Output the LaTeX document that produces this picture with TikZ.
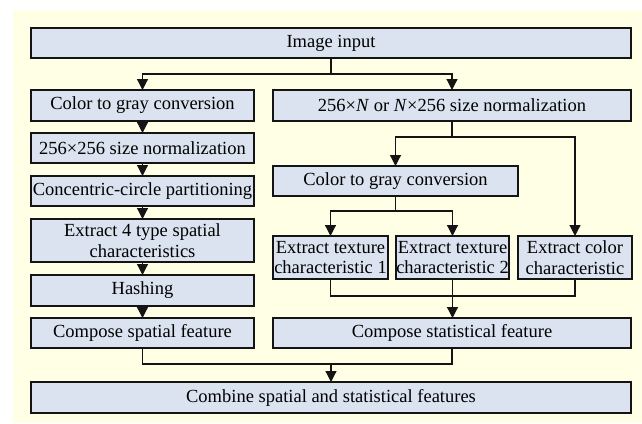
\documentclass[tikz,border=0pt]{standalone}
\usepackage{fontspec}
\setmainfont{Liberation Serif}
\usetikzlibrary{arrows.meta}
\definecolor{bgcream}{RGB}{255,255,230}
\definecolor{boxfill}{RGB}{218,227,239}
\definecolor{edge}{RGB}{20,20,20}
\tikzset{
  stepbox/.style={draw=edge, fill=boxfill, line width=1.4pt, inner sep=0pt, outer sep=0pt,
    align=center, font=\fontsize{18.5}{20.5}\selectfont},
  conn/.style={draw=edge, line width=1.2pt},
  arr/.style={conn, -{Triangle[length=11pt,width=11pt]}},
}
\newcommand{\bx}[7]{% name, x1, y1, x2, y2, text
  \node[stepbox, minimum width={(#4-#2)*1pt}, minimum height={(#5-#3)*1pt}] (#1) at ({(#2+#4)/2},{(#3+#5)/2}) {#6};}
\begin{document}
\begin{tikzpicture}[x=1pt,y=-1pt]
\useasboundingbox (0,0) rectangle (642,423);
\fill[bgcream] (12.5,9.5) rectangle (642,423);
\bx{in}{31}{28}{631}{58}{Image input}{}
\bx{L1}{31}{90}{254}{121}{Color to gray conversion}{}
\bx{R1}{273}{90}{631}{121}{256×\textit{N} or \textit{N}×256 size normalization}{}
\bx{L2}{31}{133}{254}{163}{256×256 size normalization}{}
\bx{L3}{31}{176}{254}{206}{Concentric-circle partitioning}{}
\bx{R2}{273}{166}{518}{196}{Color to gray conversion}{}
\bx{L4}{31}{219}{254}{262}{Extract 4 type spatial\\characteristics}{}
\bx{T1}{273}{236}{388}{279}{Extract texture\\characteristic 1}{}
\bx{T2}{396}{236}{509}{279}{Extract texture\\characteristic 2}{}
\bx{CC}{518}{236}{632}{279}{Extract color\\characteristic}{}
\bx{L5}{31}{275}{254}{306}{Hashing}{}
\bx{L6}{31}{318}{254}{348}{Compose spatial feature}{}
\bx{R3}{273}{318}{631}{348}{Compose statistical feature}{}
\bx{fin}{31}{382}{631}{413}{Combine spatial and statistical features}{}
% top split
\coordinate (j1) at (331,74);
\draw[conn] (in.south) -- (j1);
\draw[arr] (j1) -| (L1.north);
\draw[arr] (j1) -| (R1.north);
% left chain
\draw[arr] (L1.south) -- (L2.north);
\draw[arr] (L2.south) -- (L3.north);
\draw[arr] (L3.south) -- (L4.north);
\draw[arr] (L4.south) -- (L5.north);
\draw[arr] (L5.south) -- (L6.north);
% right tree
\coordinate (j2) at (R1.south |- 0,137);
\draw[conn] (R1.south) -- (j2);
\draw[arr] (j2) -| (R2.north);
\draw[arr] (j2) -| (CC.north);
\coordinate (j3) at (R2.south |- 0,211);
\draw[conn] (R2.south) -- (j3);
\draw[arr] (j3) -| (T1.north);
\draw[arr] (j3) -| (T2.north);
\coordinate (j4) at (T2.south |- 0,296);
\draw[conn] (T1.south) |- (j4);
\draw[conn] (CC.south) |- (j4);
\draw[arr] (T2.south) -- (T2.south |- R3.north);
% bottom merge
\coordinate (j5) at (331,364);
\draw[conn] (L6.south) |- (j5);
\draw[conn] (R3.south) |- (j5);
\draw[arr] (j5) -- (fin.north);
\end{tikzpicture}
\end{document}
